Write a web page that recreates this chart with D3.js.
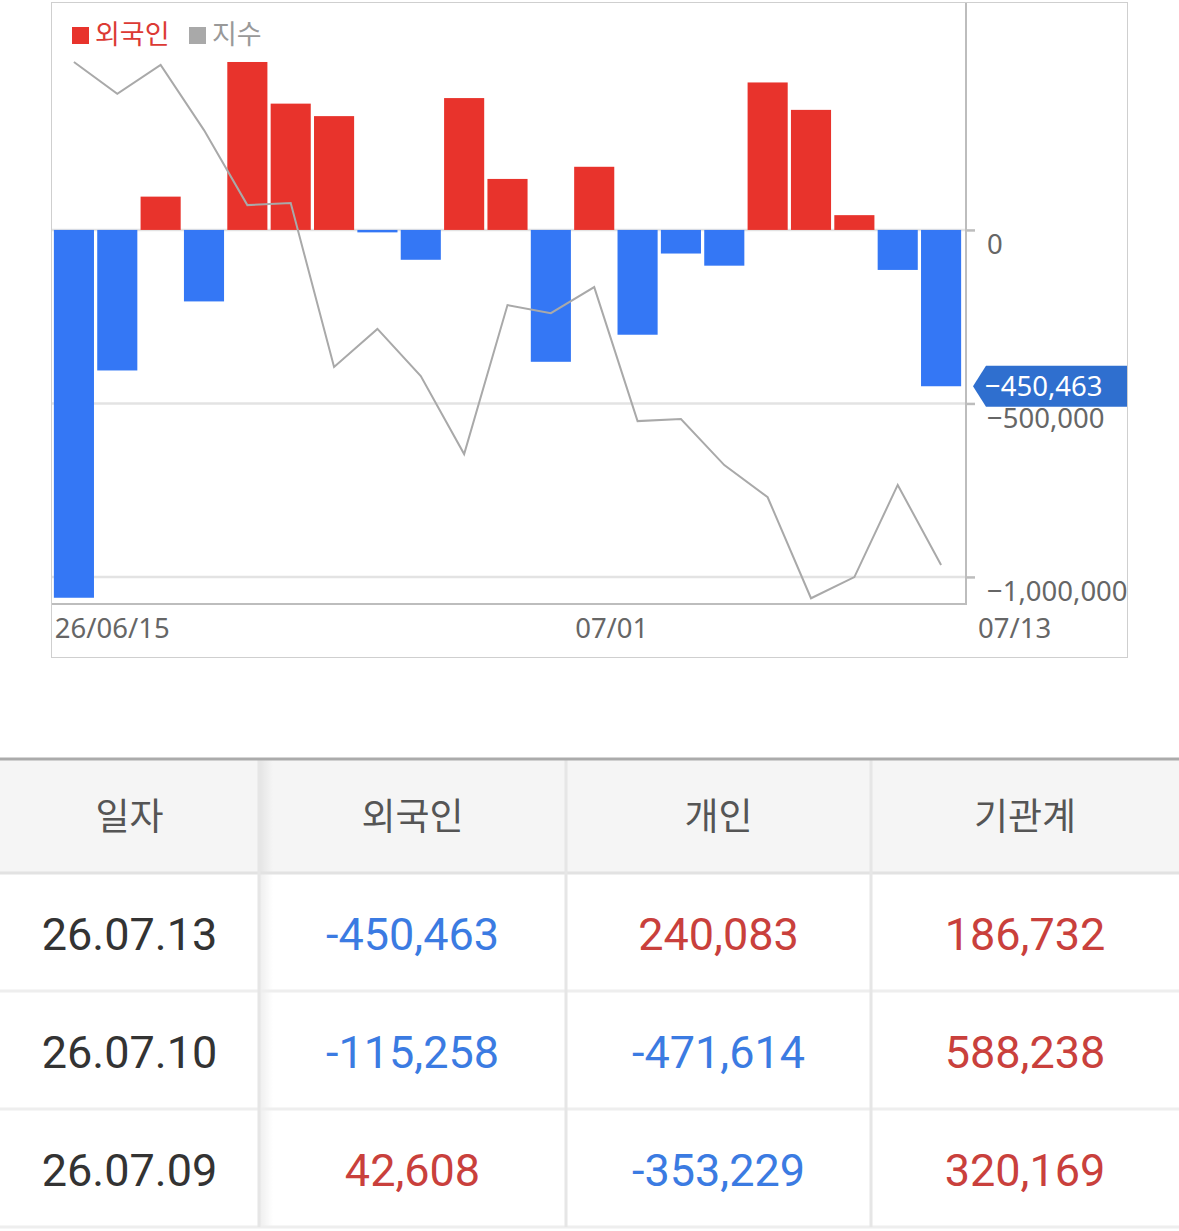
<!DOCTYPE html>
<html>
<head>
<meta charset="utf-8">
<script src="https://cdn.jsdelivr.net/npm/d3@7"></script>
<style>
  html, body { margin: 0; padding: 0; background: #fff; }
  svg { display: block; }
</style>
</head>
<body>
<svg id="chart" width="1179" height="1231"></svg>
<script>
// daily foreign net buying (bars) and market index (line)
let dates = ["26/06/15","06/16","06/17","06/18","06/19","06/22","06/23","06/24","06/25","06/26",
             "06/29","06/30","07/01","07/02","07/03","07/06","07/07","07/08","07/09","07/10","07/13"];
let foreignNet = [-1060000, -405000, 96000, -206000, 484000, 364000, 328000, -7000, -86000, 380000,
                  147000, -380000, 182000, -302000, -68000, -103000, 425000, 346000, 42608, -115258, -450463];
let indexValues = [2900.0, 2888.1, 2898.9, 2874.6, 2846.6, 2847.4, 2786.2, 2800.4, 2782.8, 2753.7,
                   2809.3, 2806.3, 2816.0, 2766.0, 2766.8, 2749.6, 2737.6, 2699.9, 2707.8, 2742.2, 2712.3];
let xLabels = ["26/06/15", "07/01", "07/13"];
let yTicks = [0, -500000, -1000000];
let legendNames = ["외국인", "지수"];

// table under the chart
let tableHeaders = ["일자", "외국인", "개인", "기관계"];
let tableDates = ["26.07.13", "26.07.10", "26.07.09"];
let tableForeign = [-450463, -115258, 42608];
let tablePersonal = [240083, -471614, -353229];
let tableInstitution = [186732, 588238, 320169];

let svg = d3.select("#chart");
let plot = {left: 52, top: 3, right: 966, bottom: 604};

let x = d3.scaleBand()
  .domain(dates)
  .range([53, 962])
  .paddingInner(0.075)
  .paddingOuter(0.02);

let y = d3.scaleLinear()
  .domain([-1078000, 654000])
  .range([plot.bottom, plot.top]);

let yIdx = d3.scaleLinear()
  .domain([2700, 2900])
  .range([598, 62]);

// outer frame
svg.append("rect")
  .attr("x", 51.5).attr("y", 2.5)
  .attr("width", 1076).attr("height", 655)
  .attr("fill", "none")
  .attr("stroke", "#cfcfcf");

// grid lines
svg.append("g").selectAll("line")
  .data(yTicks)
  .enter().append("line")
  .attr("x1", plot.left).attr("x2", plot.right)
  .attr("y1", d => y(d)).attr("y2", d => y(d))
  .attr("stroke", "#e3e3e3")
  .attr("stroke-width", 2.5);

// bars
svg.append("g").selectAll("rect")
  .data(foreignNet)
  .enter().append("rect")
  .attr("x", (d, i) => x(dates[i]))
  .attr("width", x.bandwidth())
  .attr("y", d => y(Math.max(0, d)))
  .attr("height", d => Math.abs(y(d) - y(0)))
  .attr("fill", d => d >= 0 ? "#e8332c" : "#3477f5");

// index line
let line = d3.line()
  .x((d, i) => x(dates[i]) + x.bandwidth() / 2)
  .y(d => yIdx(d));

svg.append("path")
  .datum(indexValues)
  .attr("d", line)
  .attr("fill", "none")
  .attr("stroke", "#a9a9a9")
  .attr("stroke-width", 2);

// plot border (right + bottom)
svg.append("path")
  .attr("d", "M" + plot.right + "," + plot.top + "V" + plot.bottom + "H" + plot.left)
  .attr("fill", "none")
  .attr("stroke", "#bdbdbd")
  .attr("stroke-width", 2);

// right axis
let yAxis = svg.append("g")
  .attr("transform", "translate(" + plot.right + ",0)")
  .call(d3.axisRight(y).tickValues(yTicks).tickSize(9).tickFormat(d3.format(",")));
yAxis.select(".domain").remove();
yAxis.selectAll(".tick line").attr("stroke", "#bdbdbd").attr("stroke-width", 2.5);
yAxis.selectAll(".tick text")
  .attr("x", 21)
  .attr("dy", 24)
  .attr("fill", "#666")
  .style("font-family", "'Noto Sans', sans-serif")
  .style("font-size", "27.5px");

// x labels
svg.append("g").selectAll("text")
  .data(xLabels)
  .enter().append("text")
  .attr("x", (d, i) => i === xLabels.length - 1 ? plot.right + 12 : x(i === 0 ? dates[0] : d) + 1)
  .attr("y", 638)
  .attr("fill", "#666")
  .style("font-family", "'Noto Sans', sans-serif")
  .style("font-size", "27.5px")
  .text(d => d);

// value tag for the latest bar
let lastVal = foreignNet[foreignNet.length - 1];
let ty = y(lastVal);
let tag = svg.append("g");
tag.append("path")
  .attr("d", "M973," + ty + "L986," + (ty - 20.5) + "H1127V" + (ty + 20.5) + "H986Z")
  .attr("fill", "#2f6fcf");
tag.append("text")
  .attr("x", 985)
  .attr("y", ty)
  .attr("dy", "0.35em")
  .attr("fill", "#fff")
  .style("font-family", "'Noto Sans', sans-serif")
  .style("font-size", "27.5px")
  .text(d3.format(",")(lastVal));

// legend
let legendColors = ["#e8332c", "#a9a9a9"];
let legendText = ["#dc3a34", "#999"];
let legendX = [72, 189];
let lg = svg.append("g");
legendNames.forEach(function(name, i) {
  lg.append("rect")
    .attr("x", legendX[i]).attr("y", 27)
    .attr("width", 17).attr("height", 17)
    .attr("fill", legendColors[i]);
  lg.append("text")
    .attr("x", legendX[i] + 23)
    .attr("y", 44)
    .attr("fill", legendText[i])
    .style("font-family", "'Noto Sans CJK KR', sans-serif")
    .style("font-size", "27px")
    .text(name);
});

// ---- table ----
let colEdges = [0, 259, 566, 871, 1179];
let tableTop = 759;
let headH = 114;
let rowH = 118;
let tbl = svg.append("g");

tbl.append("rect")
  .attr("x", 0).attr("y", tableTop)
  .attr("width", 1179).attr("height", headH)
  .attr("fill", "#f5f5f5");

// shadow of the fixed first column
let grad = svg.append("defs").append("linearGradient").attr("id", "shade");
grad.append("stop").attr("offset", "0%").attr("stop-color", "#000").attr("stop-opacity", 0.07);
grad.append("stop").attr("offset", "100%").attr("stop-color", "#000").attr("stop-opacity", 0);
tbl.append("rect")
  .attr("x", colEdges[1]).attr("y", tableTop)
  .attr("width", 14).attr("height", headH + rowH * tableDates.length)
  .attr("fill", "url(#shade)");

// horizontal separators
let rowLines = d3.range(tableDates.length + 1).map(i => tableTop + headH + i * rowH);
tbl.selectAll(".hline")
  .data(rowLines)
  .enter().append("line")
  .attr("x1", 0).attr("x2", 1179)
  .attr("y1", d => d).attr("y2", d => d)
  .attr("stroke", (d, i) => i === 0 ? "#e2e2e2" : "#eeeeee")
  .attr("stroke-width", 3);

// vertical separators
tbl.selectAll(".vline")
  .data(colEdges.slice(1, 4))
  .enter().append("line")
  .attr("x1", d => d).attr("x2", d => d)
  .attr("y1", tableTop).attr("y2", tableTop + headH + rowH * tableDates.length)
  .attr("stroke", "#e6e6e6")
  .attr("stroke-width", 3);

tbl.append("line")
  .attr("x1", 0).attr("x2", 1179)
  .attr("y1", tableTop).attr("y2", tableTop)
  .attr("stroke", "#ababab")
  .attr("stroke-width", 3);

let colCenter = i => (colEdges[i] + colEdges[i + 1]) / 2;

tbl.selectAll(".head")
  .data(tableHeaders)
  .enter().append("text")
  .attr("x", (d, i) => colCenter(i))
  .attr("y", tableTop + headH / 2)
  .attr("dy", "0.38em")
  .attr("text-anchor", "middle")
  .attr("fill", "#555")
  .style("font-family", "'Noto Sans CJK KR', sans-serif")
  .style("font-size", "37px")
  .text(d => d);

let fmt = d3.format(",");
let cols = [tableForeign, tablePersonal, tableInstitution];
tableDates.forEach(function(dt, r) {
  let cy = tableTop + headH + r * rowH + rowH / 2 + 2;
  tbl.append("text")
    .attr("x", colCenter(0)).attr("y", cy).attr("dy", "0.36em")
    .attr("text-anchor", "middle")
    .attr("fill", "#333")
    .style("font-family", "Roboto, sans-serif")
    .style("font-size", "45px")
    .text(dt);
  cols.forEach(function(arr, c) {
    let v = arr[r];
    tbl.append("text")
      .attr("x", colCenter(c + 1)).attr("y", cy).attr("dy", "0.36em")
      .attr("text-anchor", "middle")
      .attr("fill", v < 0 ? "#3b7be2" : "#c9403c")
      .style("font-family", "Roboto, sans-serif")
      .style("font-size", "45px")
      .text(fmt(v).replace("−", "-"));
  });
});
</script>
</body>
</html>
